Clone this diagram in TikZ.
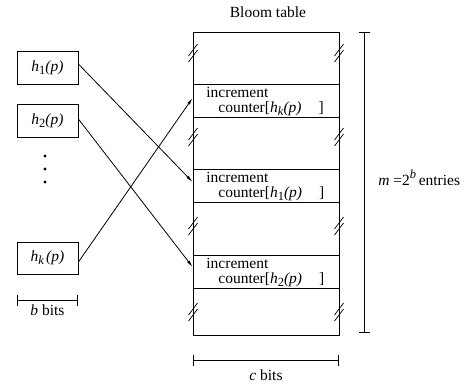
\documentclass[tikz,border=0pt]{standalone}
\usepackage{fontspec}
\setmainfont{Liberation Serif}
\usetikzlibrary{arrows.meta,calc}
\newcommand{\hfn}[1]{\textit{h}\raisebox{-0.45ex}{\fontsize{12.5}{12.5}\selectfont #1}\textit{(p)}}
\begin{document}
\begin{tikzpicture}[x=1pt,y=-1pt,line width=0.8pt,
  every node/.style={font=\fontsize{15.5}{15.5}\selectfont, inner sep=0pt},
  hbox/.style={draw, minimum width=61pt, minimum height=33pt},
  rowbox/.style={draw, minimum width=146pt, minimum height=33pt},
  dimline/.style={{Bar[width=11pt]}-{Bar[width=11pt]}},
  arr/.style={-{Latex[length=7pt,width=3pt]}},
  brk/.style={line width=0.7pt}]
\useasboundingbox (0,0) rectangle (475,386);
% table
\node[draw, minimum width=146pt, minimum height=303pt] (table) at (266,183.5) {};
\node[anchor=base] (title) at (268,17) {Bloom table};
% rows
\node[rowbox] (row1) at (266,100.5) {};
\node[rowbox] (row2) at (266,185.5) {};
\node[rowbox] (row3) at (266,271.5) {};
\node[anchor=base west] (inc1) at (206,97) {increment};
\node[anchor=base west] (cnt1) at (218,112) {counter[\hfn{\textit{k}}\hspace{1.1em}]};
\node[anchor=base west] (inc2) at (206,182) {increment};
\node[anchor=base west] (cnt2) at (218,197) {counter[\hfn{1}\hspace{1.1em}]};
\node[anchor=base west] (inc3) at (206,268) {increment};
\node[anchor=base west] (cnt3) at (218,283) {counter[\hfn{2}\hspace{1.1em}]};
% break marks
\foreach \yy in {53,137,226,312}{
  \foreach \xx in {193,339}{
    \draw[brk] (\xx-4.5,\yy+3) -- (\xx+4.5,\yy-9);
    \draw[brk] (\xx-4.5,\yy+9) -- (\xx+4.5,\yy-3);
  }
}
% hash boxes
\node[hbox] (h1) at (47.5,67.5) {\hfn{1}};
\node[hbox] (h2) at (47.5,120.5) {\hfn{2}};
\node[hbox, minimum height=32pt] (hk) at (47.5,258) {\hfn{\textit{k}\,}};
\fill (45,156) circle (1.6);
\fill (45,169) circle (1.6);
\fill (45,182) circle (1.6);
% arrows
\draw[arr] ([yshift=3.5pt]h1.east) -- ([yshift=3.5pt]row2.west);
\draw[arr] ([yshift=1.5pt]h2.east) -- ([yshift=4.5pt]row3.west);
\draw[arr] ([yshift=-4pt]hk.east) -- ([yshift=2.5pt]row1.west);
% dimensions
\coordinate (b1) at (17,300);
\coordinate (b2) at (78,300);
\draw[dimline] (b1) -- (b2);
\node[anchor=base] (blab) at (47.5,315) {\textit{b} bits};
\coordinate (c1) at (193,360);
\coordinate (c2) at (339,360);
\draw[dimline] (c1) -- (c2);
\node[anchor=base] (clab) at (266,380) {\textit{c} bits};
\coordinate (m1) at (364,32);
\coordinate (m2) at (364,333);
\draw[dimline] (m1) -- (m2);
\node[anchor=base west] (mlab) at (378,185) {\textit{m} =2\raisebox{0.9ex}{\fontsize{12.5}{12.5}\selectfont\textit{b}}\,entries};
\end{tikzpicture}
\end{document}
